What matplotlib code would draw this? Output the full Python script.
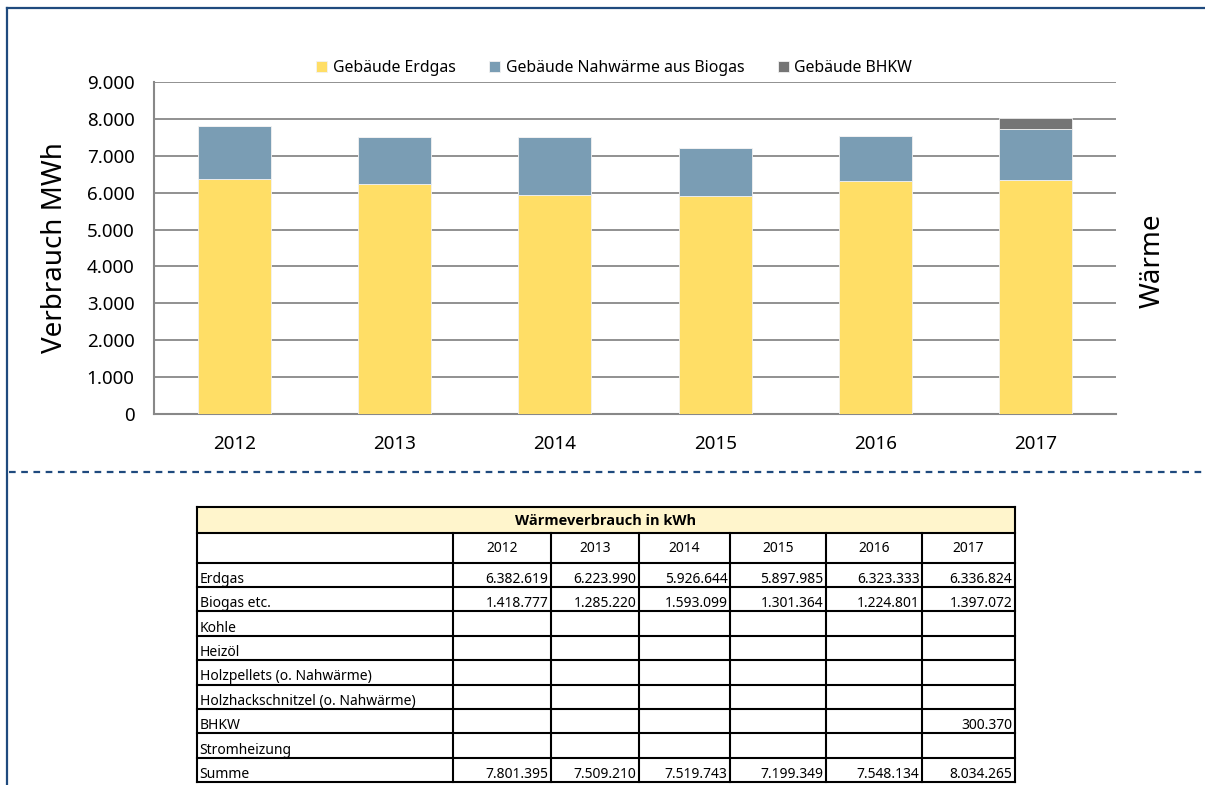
import matplotlib
matplotlib.use("Agg")
import matplotlib.pyplot as plt
from matplotlib.lines import Line2D
from matplotlib.patches import Rectangle
from matplotlib.ticker import FuncFormatter
import numpy as np

plt.rcParams['font.family'] = ['Noto Sans', 'DejaVu Sans']

# data (kWh)
years = ['2012', '2013', '2014', '2015', '2016', '2017']
erdgas = [6382619, 6223990, 5926644, 5897985, 6323333, 6336824]
biogas = [1418777, 1285220, 1593099, 1301364, 1224801, 1397072]
bhkw = [0, 0, 0, 0, 0, 300370]
summe = [7801395, 7509210, 7519743, 7199349, 7548134, 8034265]

series_labels = ['Gebäude Erdgas', 'Gebäude Nahwärme aus Biogas', 'Gebäude BHKW']
series_colors = ['#FFDE66', '#7A9DB4', '#757575']

table_title = 'Wärmeverbrauch in kWh'
row_names = ['Erdgas', 'Biogas etc.', 'Kohle', 'Heizöl', 'Holzpellets (o. Nahwärme)',
             'Holzhackschnitzel (o. Nahwärme)', 'BHKW', 'Stromheizung', 'Summe']
row_values = {'Erdgas': erdgas,
              'Biogas etc.': biogas,
              'BHKW': [None, None, None, None, None, 300370],
              'Summe': summe}


def dotfmt(v, pos=None):
    return f"{int(round(v)):,}".replace(",", ".")


W, H = 1205, 785
fig = plt.figure(figsize=(W / 100, H / 100), dpi=100)

# ---------------- bar chart
ax = fig.add_axes([154 / W, 1 - 414 / H, 962 / W, 332 / H])
x = np.arange(len(years))
bottom = np.zeros(len(years))
for vals, lab, col in zip([erdgas, biogas, bhkw], series_labels, series_colors):
    v = np.array(vals) / 1000.0
    ax.bar(x, v, 0.455, bottom=bottom, color=col, label=lab,
           edgecolor='#F2F2F2', linewidth=0.6, zorder=3)
    bottom = bottom + v

ax.set_xlim(-0.5, len(years) - 0.5)
ax.set_ylim(0, 9000)
ax.set_yticks(range(0, 9001, 1000))
ax.yaxis.set_major_formatter(FuncFormatter(dotfmt))
ax.set_xticks(x)
ax.set_xticklabels(years)
ax.yaxis.grid(True, color='#888888', lw=1.3, zorder=0)
ax.set_axisbelow(True)
for s in ['top', 'right']:
    ax.spines[s].set_visible(False)
for s in ['left', 'bottom']:
    ax.spines[s].set_color('#888888')
    ax.spines[s].set_linewidth(1.5)
ax.tick_params(axis='y', length=0, labelsize=13.5, pad=14)
ax.tick_params(axis='x', length=0, labelsize=13.5, pad=15)

h, l = ax.get_legend_handles_labels()
fig.legend(h, l, loc='center', bbox_to_anchor=(614 / W, 1 - 68 / H), ncol=3,
           frameon=False, fontsize=11.4, handlelength=0.72, handleheight=0.72,
           handletextpad=0.35, columnspacing=2.1)

fig.text(55 / W, 1 - 248 / H, 'Verbrauch MWh', rotation=90, ha='center', va='center', fontsize=20)
fig.text(1153 / W, 1 - 261 / H, 'Wärme', rotation=90, ha='center', va='center', fontsize=20)

# frame + dashed separator
blue = '#1F4A7E'
fig.add_artist(Line2D([7 / W, 1], [1 - 7.5 / H] * 2, color=blue, lw=1.6))
fig.add_artist(Line2D([7 / W] * 2, [0, 1 - 7.5 / H], color=blue, lw=1.6))
fig.add_artist(Line2D([9 / W, 1], [1 - 472 / H] * 2, color=blue, lw=1.6, ls=(0, (3, 2.5))))

# ---------------- table
tax = fig.add_axes([0, 0, 1, 1])
tax.set_xlim(0, W)
tax.set_ylim(H, 0)
tax.axis('off')

col_w = [256, 98, 88, 91, 96, 96, 93]
xe = 197 + np.concatenate([[0], np.cumsum(col_w)])
title_h, head_h, row_h = 25.5, 30, 24.4
y_title = 507
y_head = y_title + title_h
y_rows = y_head + head_h
y_end = y_rows + row_h * len(row_names)

tax.add_patch(Rectangle((xe[0], y_title), xe[-1] - xe[0], title_h, facecolor='#FFF5CC', edgecolor='none'))
tax.text((xe[0] + xe[-1]) / 2, y_title + title_h / 2 + 1, table_title, ha='center', va='center',
         fontsize=10.5, fontweight='bold', family=['Open Sans', 'DejaVu Sans'])
for j, yr in enumerate(years):
    tax.text((xe[j + 1] + xe[j + 2]) / 2, y_head + head_h / 2 + 1.5, yr, ha='center', va='center', fontsize=10)
for i, name in enumerate(row_names):
    yb = y_rows + row_h * (i + 1) - 4
    tax.text(xe[0] + 2.5, yb, name, ha='left', va='baseline', fontsize=10)
    vals = row_values.get(name)
    if vals is None:
        continue
    for j, v in enumerate(vals):
        if v is None:
            continue
        tax.text(xe[j + 2] - 2.5, yb, dotfmt(v), ha='right', va='baseline', fontsize=10)

lw_t = 1.5
hl = [y_title, y_head, y_rows] + [y_rows + row_h * (i + 1) for i in range(len(row_names))]
for yy in hl:
    tax.plot([xe[0], xe[-1]], [yy, yy], color='black', lw=lw_t, solid_capstyle='projecting')
tax.plot([xe[0], xe[0]], [y_title, y_end], color='black', lw=lw_t)
tax.plot([xe[-1], xe[-1]], [y_title, y_end], color='black', lw=lw_t)
for xx in xe[1:-1]:
    tax.plot([xx, xx], [y_head, y_end], color='black', lw=lw_t)

fig.savefig('out.png', dpi=100)
